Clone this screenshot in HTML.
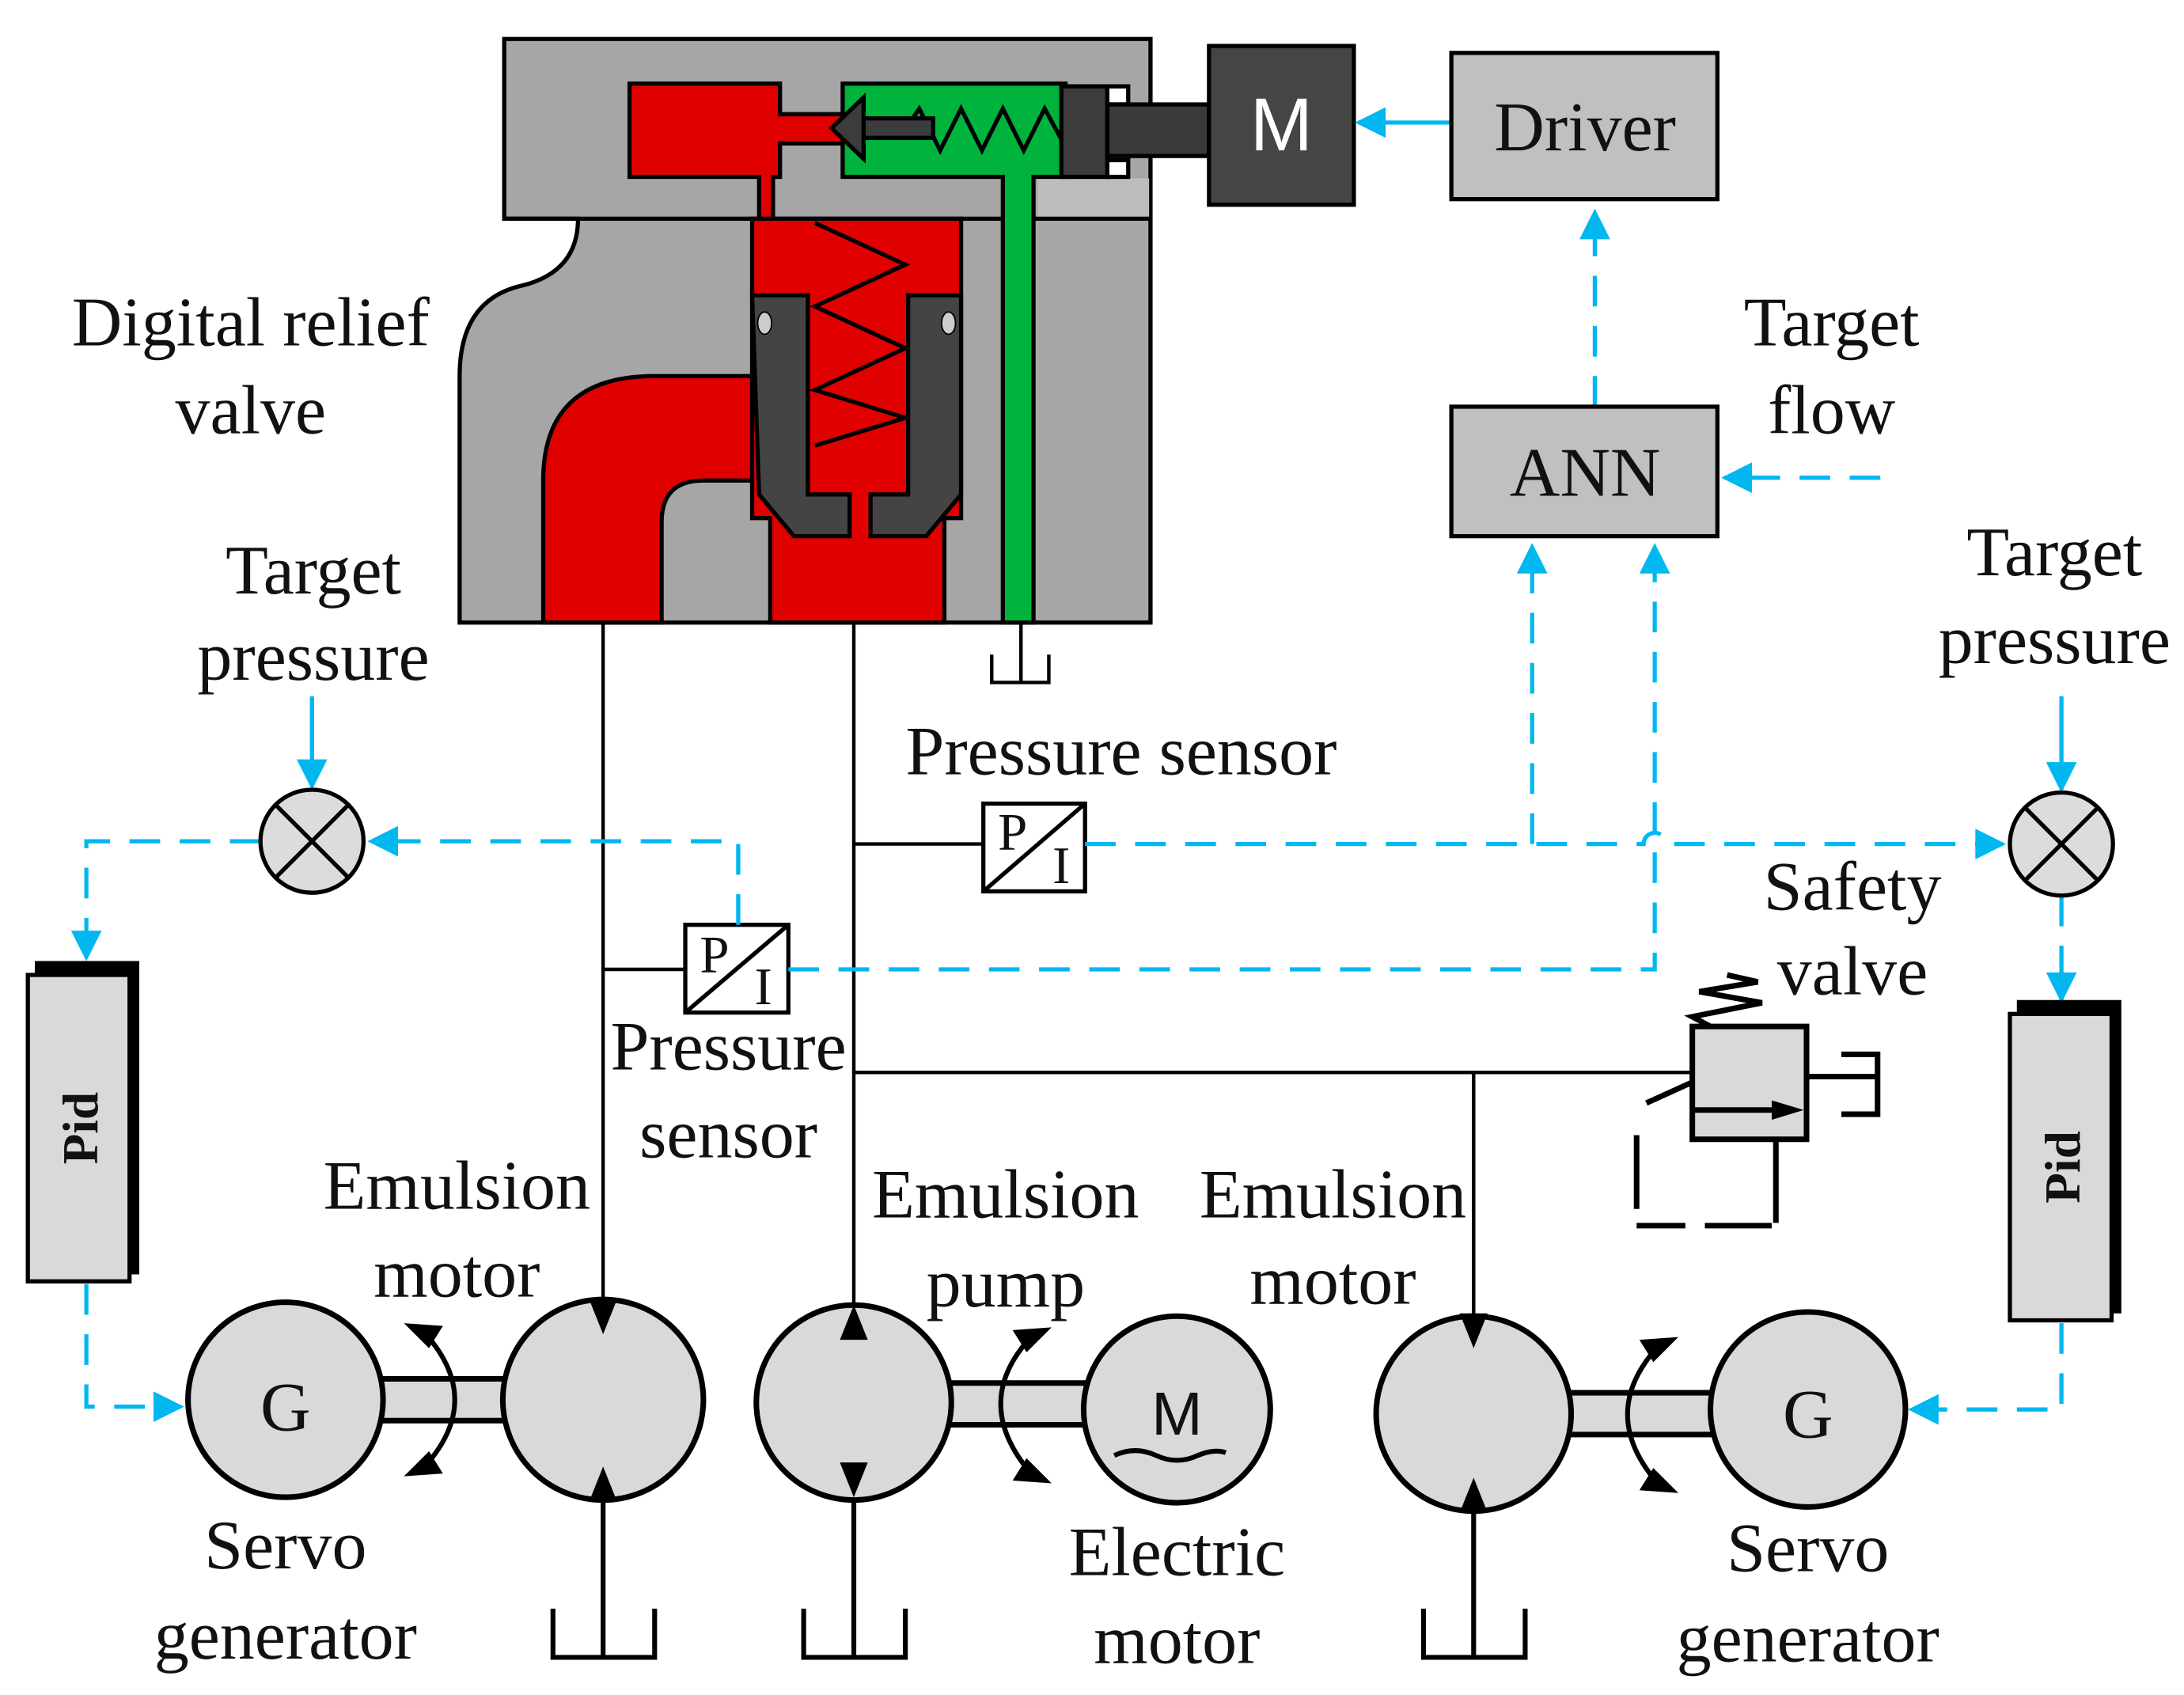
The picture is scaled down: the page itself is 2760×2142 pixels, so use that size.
<!DOCTYPE html>
<html><head><meta charset="utf-8"><style>
html,body{margin:0;padding:0;background:#fff;}
svg{display:block;}
text{font-family:"Liberation Serif",serif;font-size:50px;fill:#111;text-anchor:middle;}
</style></head><body>
<svg width="2760" height="2142" viewBox="0 0 1568 1217" preserveAspectRatio="none" xmlns="http://www.w3.org/2000/svg">
<defs>
<marker id="ab2" viewBox="0 0 10 10" refX="9" refY="5" markerWidth="26" markerHeight="22" markerUnits="userSpaceOnUse" orient="auto"><path d="M0,0 L10,5 L0,10 z" fill="#00b7f0"/></marker>
</defs>
<g stroke="#000" stroke-width="3">
<path d="M362,28 H826 V447 H330 V270 Q330,215 375,205 Q415,195 415,157 H362 Z" fill="#a6a6a6"/>
<rect x="745" y="128" width="80" height="28" fill="#bdbdbd" stroke="none"/>
<line x1="362" y1="157" x2="826" y2="157"/>
<path d="M390,447 V345 Q390,270 470,270 H545 V345 H505 Q475,345 475,375 V447 Z" fill="#e00000"/>
<path d="M452,60 H560 V82 H610 V103 H560 V127 H555 V160 H545 V127 H452 Z" fill="#e00000"/>
<path d="M540,157 H690 V372 H678 V447 H553 V372 H540 Z" fill="#e00000"/>
<path d="M605,60 H765 V127 H742 V447 H720 V127 H605 Z" fill="#00b33c"/>
<rect x="762" y="62" width="33" height="65" fill="#3c3c3c"/>
<rect x="795" y="62" width="15" height="13" fill="#fff"/>
<rect x="795" y="115" width="15" height="12" fill="#fff"/>
<rect x="795" y="75" width="73" height="37" fill="#3a3a3a"/>
<rect x="868" y="33" width="104" height="114" fill="#454545"/>
<polyline points="645,100 660,78 675,108 690,78 705,108 720,78 735,108 750,78 762,100" fill="none"/>
<polyline points="585,160 650,190 585,220 650,250 585,280 650,300 585,320" fill="none" stroke-width="3"/>
<path d="M597,92 L620,70 L620,114 Z" fill="#3c3c3c"/>
<rect x="620" y="85" width="50" height="14" fill="#3c3c3c"/>
<path d="M540,212 H580 V355 H610 V385 H570 L545,355 Z" fill="#444"/>
<path d="M690,212 H652 V355 H625 V385 H665 L690,355 Z" fill="#444"/>
<ellipse cx="549" cy="232" rx="5" ry="8" fill="#ccc" stroke-width="1"/>
<ellipse cx="681" cy="232" rx="5" ry="8" fill="#ccc" stroke-width="1"/>
</g>
<text x="920" y="108" style="fill:#fff;font-family:'Liberation Sans',sans-serif;font-size:54px">M</text>

<g stroke="#000" stroke-width="2.5" fill="none">
<line x1="433" y1="447" x2="433" y2="935"/>
<line x1="613" y1="447" x2="613" y2="940"/>
<line x1="733" y1="447" x2="733" y2="490"/>
<polyline points="712,470 712,490 753,490 753,470"/>
<line x1="613" y1="606" x2="706" y2="606"/>
<line x1="433" y1="696" x2="492" y2="696"/>
<line x1="613" y1="770" x2="1215" y2="770"/>
<line x1="1058" y1="770" x2="1058" y2="945"/>
</g>
<g stroke="#000" stroke-width="3" fill="#fff">
<rect x="706" y="577" width="73" height="63"/><line x1="706" y1="640" x2="779" y2="577"/>
<rect x="492" y="664" width="74" height="63"/><line x1="492" y1="727" x2="566" y2="664"/>
</g>
<text x="727" y="610" style="font-size:38px">P</text><text x="762" y="634" style="font-size:38px">I</text>
<text x="513" y="698" style="font-size:38px">P</text><text x="548" y="721" style="font-size:38px">I</text>

<g stroke="#00b7f0" stroke-width="3" fill="none" stroke-dasharray="22,14">
<path d="M779,606 H1180 A8,8 0 0 1 1196,606 H1438" marker-end="url(#ab2)"/>
<path d="M1100,606 V392" marker-end="url(#ab2)"/>
<path d="M566,696 H1188 V392" marker-end="url(#ab2)"/>
<path d="M530,664 V604 H266" marker-end="url(#ab2)"/>
<path d="M187,604 H62 V688" marker-end="url(#ab2)"/>
<path d="M62,922 V1010 H130" marker-end="url(#ab2)"/>
<path d="M1480,643 V718" marker-end="url(#ab2)"/>
<path d="M1480,950 V1012 H1372" marker-end="url(#ab2)"/>
<path d="M1145,292 V152" marker-end="url(#ab2)"/>
<path d="M1350,343 H1238" marker-end="url(#ab2)"/>
</g>
<g stroke="#00b7f0" stroke-width="3" fill="none">
<path d="M224,500 V565" marker-end="url(#ab2)"/>
<path d="M1480,500 V567" marker-end="url(#ab2)"/>
<path d="M1042,88 H975" marker-end="url(#ab2)"/>
</g>

<g stroke="#000" stroke-width="3">
<rect x="1042" y="38" width="191" height="105" fill="#c0c0c0"/>
<rect x="1042" y="292" width="191" height="93" fill="#c0c0c0"/>
<circle cx="224" cy="604" r="37" fill="#dcdcdc"/>
<line x1="198" y1="578" x2="250" y2="630"/><line x1="250" y1="578" x2="198" y2="630"/>
<circle cx="1480" cy="606" r="37" fill="#dcdcdc"/>
<line x1="1454" y1="580" x2="1506" y2="632"/><line x1="1506" y1="580" x2="1454" y2="632"/>
</g>
<text x="1138" y="108">Driver</text>
<text x="1138" y="356">ANN</text>
<rect x="25" y="690" width="75" height="225" fill="#000"/>
<rect x="20" y="700" width="73" height="220" fill="#d9d9d9" stroke="#000" stroke-width="3"/>
<text transform="translate(70,810) rotate(-90)" style="font-weight:bold;font-size:36px">Pid</text>
<rect x="1448" y="718" width="75" height="225" fill="#000"/>
<rect x="1443" y="728" width="73" height="220" fill="#d9d9d9" stroke="#000" stroke-width="3"/>
<text transform="translate(1493,838) rotate(-90)" style="font-weight:bold;font-size:36px">Pid</text>

<g stroke="#000" stroke-width="4">
<rect x="272" y="990" width="92" height="30" fill="#d9d9d9"/>
<rect x="680" y="993" width="100" height="30" fill="#d9d9d9"/>
<rect x="1126" y="1000" width="106" height="30" fill="#d9d9d9"/>
<circle cx="205" cy="1005" r="70" fill="#d9d9d9"/>
<circle cx="433" cy="1005" r="72" fill="#d9d9d9"/>
<circle cx="613" cy="1007" r="70" fill="#d9d9d9"/>
<circle cx="845" cy="1012" r="67" fill="#d9d9d9"/>
<circle cx="1058" cy="1015" r="70" fill="#d9d9d9"/>
<circle cx="1298" cy="1012" r="70" fill="#d9d9d9"/>
</g>
<g fill="#000">
<path d="M423,933 H443 L433,958 Z"/><path d="M423,1078 H443 L433,1053 Z"/>
<path d="M603,962 H623 L613,937 Z"/><path d="M603,1050 H623 L613,1075 Z"/>
<path d="M1048,943 H1068 L1058,968 Z"/><path d="M1048,1086 H1068 L1058,1061 Z"/>
</g>
<g stroke="#000" stroke-width="3.5" fill="none">
<line x1="433" y1="1078" x2="433" y2="1190"/><polyline points="397,1155 397,1190 470,1190 470,1155"/>
<line x1="613" y1="1075" x2="613" y2="1190"/><polyline points="577,1155 577,1190 650,1190 650,1155"/>
<line x1="1058" y1="1086" x2="1058" y2="1190"/><polyline points="1022,1155 1022,1190 1095,1190 1095,1155"/>
<path d="M303,955 Q350,1005 303,1055"/><path d="M742,958 Q695,1007 742,1060"/><path d="M1192,965 Q1145,1015 1192,1067"/>
<path d="M800,1045 Q815,1038 830,1045 Q845,1052 860,1045 Q872,1040 880,1043"/>
</g>
<g fill="#000">
<path d="M290,950 L318,952 L308,968 Z"/><path d="M290,1060 L318,1058 L308,1042 Z"/>
<path d="M755,953 L727,955 L737,971 Z"/><path d="M755,1065 L727,1063 L737,1047 Z"/>
<path d="M1205,960 L1177,962 L1187,978 Z"/><path d="M1205,1072 L1177,1070 L1187,1054 Z"/>
</g>
<text x="205" y="1027">G</text><text x="1298" y="1032">G</text>
<text x="845" y="1030" style="font-family:'Liberation Sans',sans-serif;font-size:44px">M</text>

<g stroke="#000" stroke-width="4" fill="none">
<rect x="1215" y="737" width="82" height="81" fill="#d9d9d9"/>
<line x1="1215" y1="797" x2="1280" y2="797"/>
<polyline points="1297,773 1348,773"/><polyline points="1322,757 1348,757 1348,800 1322,800"/>
<polyline points="1228,737 1215,730 1265,720 1220,712 1262,705 1240,700"/>
<line x1="1182" y1="792" x2="1215" y2="777"/>
<line x1="1275" y1="818" x2="1275" y2="878"/>
<path d="M1175,815 V868 M1175,880 H1210 M1224,880 H1272" />
</g>
<path d="M1272,790 L1295,797 L1272,804 Z" fill="#000"/>

<text x="180" y="248">Digital relief</text><text x="180" y="311">valve</text>
<text x="225" y="426">Target</text><text x="225" y="488">pressure</text>
<text x="805" y="556">Pressure sensor</text>
<text x="523" y="768">Pressure</text><text x="523" y="831">sensor</text>
<text x="328" y="868">Emulsion</text><text x="328" y="931">motor</text>
<text x="722" y="874">Emulsion</text><text x="722" y="938">pump</text>
<text x="957" y="874">Emulsion</text><text x="957" y="936">motor</text>
<text x="205" y="1126">Servo</text><text x="205" y="1191">generator</text>
<text x="845" y="1131">Electric</text><text x="845" y="1194">motor</text>
<text x="1298" y="1128">Servo</text><text x="1298" y="1193">generator</text>
<text x="1315" y="248">Target</text><text x="1315" y="311">flow</text>
<text x="1475" y="413">Target</text><text x="1475" y="476">pressure</text>
<text x="1330" y="653">Safety</text><text x="1330" y="714">valve</text>
</svg>
</body></html>
